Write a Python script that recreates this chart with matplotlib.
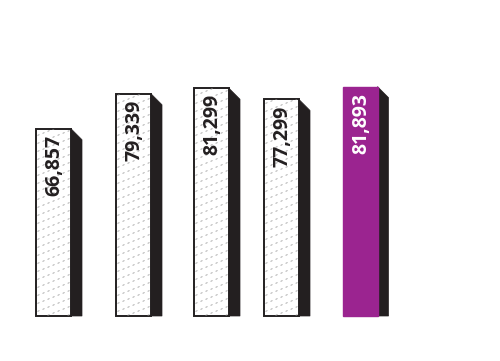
import matplotlib.pyplot as plt
from matplotlib.patches import Polygon, Rectangle
import numpy as np

# values
labels = ["66,857", "79,339", "81,299", "77,299", "81,893"]
values = [66857, 79339, 81299, 77299, 81893]
highlight = [False, False, False, False, True]

# layout (pixel-based axis on x)
xpos = [53.5, 133.5, 211.5, 281.5, 360]
width = 35
depth = 11

fig = plt.figure(figsize=(5, 3.61), dpi=100)
ax = fig.add_axes([0, 0, 1, 1])
px = 357.0  # data units per pixel vertically
ax.set_xlim(0, 500)
ax.set_ylim(-45 * px, 316 * px)
ax.axis("off")

for x, v, lab, hi in zip(xpos, values, labels, highlight):
    left, right = x - width / 2, x + width / 2
    # dark side face with chamfered top
    side = Polygon([(right, v), (right + depth, v - depth * px),
                    (right + depth, 0), (right, 0)],
                   closed=True, facecolor="#231f20", edgecolor="#231f20", lw=0.5)
    ax.add_patch(side)
    if hi:
        ax.bar(x, v, width=width, color="#9b2490", edgecolor="#9b2490", lw=1)
        col = "white"
    else:
        ax.bar(x, v, width=width, color="white", edgecolor="#231f20",
               lw=1.4, zorder=1)
        clip = Rectangle((left, 0), width, v, transform=ax.transData)
        # dashed diagonal texture, shallow slope
        for y0 in np.arange(-20, v / px + 10, 8):
            xs = np.array([left + 1.5, right - 1.5])
            ys = (y0 + 0.4 * (xs - left)) * px
            ln, = ax.plot(xs, ys, color="#9a9a9a", lw=0.6,
                          dashes=(2.5, 4), zorder=1.5)
            ln.set_clip_path(clip)
        col = "#231f20"
    ax.text(x + 1, v - 6 * px, lab, rotation=90, ha="center", va="top",
            fontsize=14, fontweight="bold", color=col, family="Open Sans",
            zorder=3)

fig.savefig("out.png", dpi=100)
